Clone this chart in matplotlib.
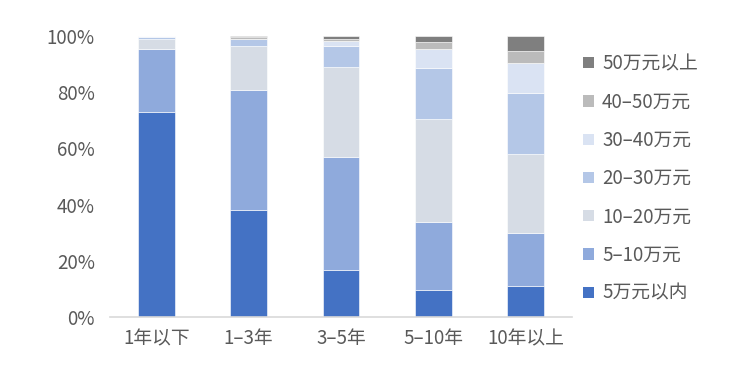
import matplotlib
matplotlib.use("Agg")
import matplotlib.pyplot as plt
from matplotlib.patches import Patch
import numpy as np

plt.rcParams['font.family'] = ['Noto Sans CJK SC', 'DejaVu Sans']

categories = ["1年以下", "1–3年", "3–5年", "5–10年", "10年以上"]
series_names = ["5万元以内", "5–10万元", "10–20万元", "20–30万元", "30–40万元", "40–50万元", "50万元以上"]
s_5 = [73.0, 38.2, 16.8, 9.6, 11.0]
s_5_10 = [22.3, 42.6, 40.0, 24.1, 18.9]
s_10_20 = [3.5, 15.8, 32.2, 36.9, 28.0]
s_20_30 = [1.0, 2.2, 7.5, 18.0, 21.8]
s_30_40 = [0.2, 0.3, 1.6, 6.9, 10.6]
s_40_50 = [0.0, 0.4, 0.7, 2.4, 4.5]
s_50 = [0.0, 0.5, 1.2, 2.1, 5.2]
colors = ["#4472C4", "#8FAADC", "#D6DCE5", "#B4C7E7", "#DAE3F3", "#BBBBBB", "#7F7F7F"]

series = [s_5, s_5_10, s_10_20, s_20_30, s_30_40, s_40_50, s_50]

fig = plt.figure(figsize=(7.4, 3.91), dpi=100)
ax = fig.add_axes([110/740, 1-317/391, 462/740, 281/391])

x = np.arange(len(categories))
bottom = np.zeros(len(categories))
for vals, c in zip(series, colors):
    v = np.array(vals) / 100.0
    ax.bar(x, v, width=0.4, bottom=bottom, color=c, edgecolor="white", linewidth=0.4)
    bottom += v

ax.set_xlim(-0.5, 4.5)
ax.set_ylim(0, 1.0)
ax.set_yticks(np.linspace(0, 1, 6))
ax.set_yticklabels([f"{int(t*100)}%" for t in np.linspace(0, 1, 6)])
ax.set_xticks(x)
ax.set_xticklabels(categories)
for s in ["top", "right", "left"]:
    ax.spines[s].set_visible(False)
ax.spines["bottom"].set_color("#D9D9D9")
ax.spines["bottom"].set_linewidth(1.2)
ax.tick_params(axis="both", length=0, labelsize=13.5, colors="#595959")
ax.tick_params(axis="y", pad=11)
ax.tick_params(axis="x", pad=8)

handles = [Patch(facecolor=c, edgecolor="none") for c in colors]
leg = fig.legend(handles[::-1], series_names[::-1], loc="upper left",
                 bbox_to_anchor=(574/740, 1-44/391), frameon=False,
                 fontsize=13.5, handlelength=0.55, handleheight=0.55,
                 handletextpad=0.45, labelspacing=0.92, borderpad=0)
for t in leg.get_texts():
    t.set_color("#595959")

fig.savefig("out.png", dpi=100)
